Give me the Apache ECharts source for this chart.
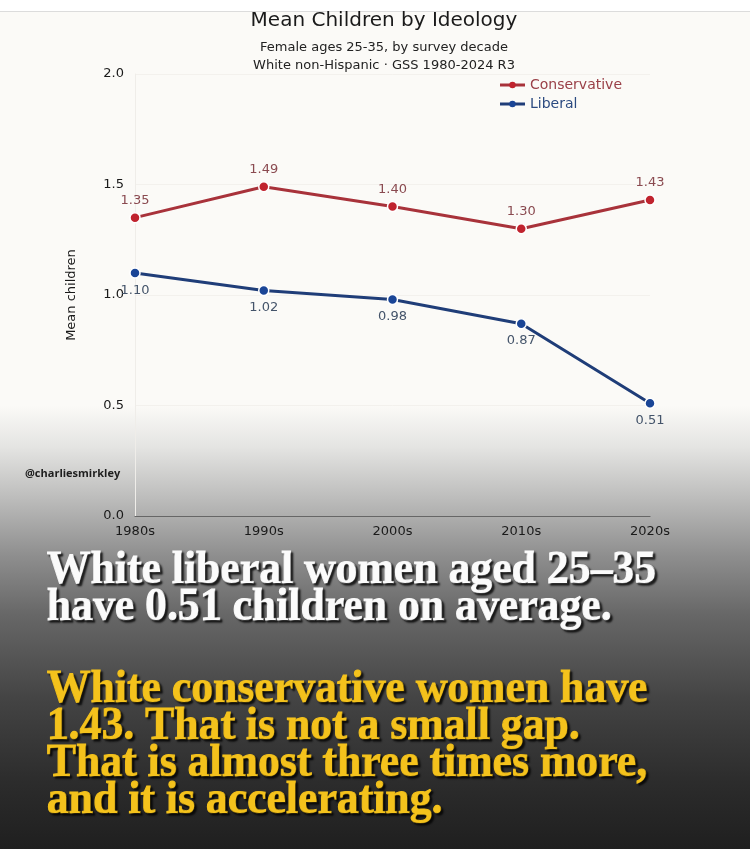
<!DOCTYPE html>
<html>
<head>
<meta charset="utf-8">
<script src="https://cdn.jsdelivr.net/npm/echarts@6/dist/echarts.min.js"></script>
<style>
  html, body { margin: 0; padding: 0; background: #ffffff; }
  #main-chart { width: 750px; height: 849px; }
</style>
</head>
<body>
<div id="main-chart"></div>
<script>
// values
const decades = ['1980s', '1990s', '2000s', '2010s', '2020s']
const conservative = [1.35, 1.49, 1.40, 1.30, 1.43]
const liberal = [1.10, 1.02, 0.98, 0.87, 0.51]
const yTicks = [0, 0.5, 1.0, 1.5, 2.0]

const headline = ['White liberal women aged 25\u201335', 'have 0.51 children on average.']
const followUp = [
  'White conservative women have',
  '1.43. That is not a small gap.',
  'That is almost three times more,',
  'and it is accelerating.'
]

const CHART_FONT = 'DejaVu Sans'
const CAPTION_FONT = "bold 46px 'Liberation Serif'"

const caption = (lines, top, fill) => lines.map((t, i) => ({
  type: 'text',
  x: 47,
  y: top + i * 37,
  scaleX: 0.95,
  z: 100,
  style: {
    text: t,
    font: CAPTION_FONT,
    fill: fill,
    stroke: fill,
    lineWidth: 1.2,
    textVerticalAlign: 'middle',
    textShadowColor: 'rgba(0,0,0,0.8)',
    textShadowOffsetX: 2,
    textShadowOffsetY: 2,
    textShadowBlur: 2
  }
}))

const chart = echarts.init(document.getElementById('main-chart'))
chart.setOption({
  backgroundColor: '#ffffff',
  animation: false,
  textStyle: { fontFamily: CHART_FONT },
  title: [
    {
      text: 'Mean Children by Ideology',
      left: 379, top: 6, textAlign: 'center',
      textStyle: { fontFamily: CHART_FONT, fontSize: 20, fontWeight: 'normal', color: '#1a1a1a' }
    },
    {
      text: 'Female ages 25-35, by survey decade\nWhite non-Hispanic \u00b7 GSS 1980-2024 R3',
      left: 379, top: 34, textAlign: 'center',
      textStyle: { fontFamily: CHART_FONT, fontSize: 13, lineHeight: 18, fontWeight: 'normal', color: '#222' }
    }
  ],
  legend: {
    right: 123, top: 73,
    orient: 'vertical',
    itemWidth: 25, itemHeight: 8, itemGap: 5,
    lineStyle: { width: 3 },
    itemStyle: { borderWidth: 0 },
    textStyle: { fontFamily: CHART_FONT, fontSize: 14, color: 'inherit' },
    data: [
      { name: 'Conservative', textStyle: { color: '#9a4048' } },
      { name: 'Liberal', textStyle: { color: '#2b4a80' } }
    ]
  },
  grid: { left: 135, right: 100, top: 74, bottom: 333 },
  xAxis: {
    type: 'category',
    data: decades,
    boundaryGap: false,
    axisLine: { lineStyle: { color: '#666', width: 1.2 } },
    axisTick: { show: false },
    axisLabel: { color: '#1a1a1a', fontSize: 13, margin: 9 },
    splitLine: { show: false }
  },
  yAxis: {
    type: 'value',
    min: 0, max: 2, interval: 0.5,
    name: 'Mean children',
    nameLocation: 'middle',
    nameGap: 57,
    nameTextStyle: { color: '#1a1a1a', fontSize: 13 },
    axisLine: { show: true, lineStyle: { color: '#efede9', width: 1 } },
    axisTick: { show: false },
    axisLabel: {
      color: '#1a1a1a', fontSize: 13, margin: 11,
      formatter: v => yTicks.includes(v) ? v.toFixed(1) : ''
    },
    splitLine: { lineStyle: { color: '#f3f1ed', width: 1 } }
  },
  graphic: [
    {
      type: 'rect', z: -10, silent: true,
      shape: { x: 0, y: 12, width: 750, height: 837 },
      style: {
        fill: new echarts.graphic.LinearGradient(0, 0, 0, 1, [
          { offset: 0, color: '#fbfaf7' },
          { offset: 0.47, color: '#fbfaf7' },
          { offset: 0.52, color: '#e4e4e2' },
          { offset: 0.58, color: '#bdbdbc' },
          { offset: 0.65, color: '#8e8e8e' },
          { offset: 0.72, color: '#676767' },
          { offset: 0.82, color: '#444444' },
          { offset: 0.92, color: '#2c2c2c' },
          { offset: 1, color: '#1f1f1f' }
        ])
      }
    },
    {
      type: 'rect', z: -9, silent: true,
      shape: { x: 0, y: 11, width: 750, height: 1 },
      style: { fill: '#dcdcdc' }
    },
    {
      type: 'text', x: 25, y: 474, z: 50,
      style: {
        text: '@charliesmirkley',
        font: "bold 11px 'Open Sans'",
        fill: '#1e1e1e',
        textVerticalAlign: 'middle'
      }
    },
    ...caption(headline, 571, '#fbfbfb'),
    ...caption(followUp, 690, '#f4c21c')
  ],
  series: [
    {
      name: 'Conservative',
      type: 'line',
      data: conservative,
      symbol: 'circle', symbolSize: 10,
      lineStyle: { color: '#a8323a', width: 3 },
      itemStyle: { color: '#c0232e', borderColor: '#ffffff', borderWidth: 1.5 },
      label: {
        show: true, position: 'top', distance: 5,
        color: '#8a4a50', fontSize: 13,
        formatter: p => p.value.toFixed(2)
      }
    },
    {
      name: 'Liberal',
      type: 'line',
      data: liberal,
      symbol: 'circle', symbolSize: 10,
      lineStyle: { color: '#1f3d78', width: 3 },
      itemStyle: { color: '#1a4596', borderColor: '#ffffff', borderWidth: 1.5 },
      label: {
        show: true, position: 'bottom', distance: 5,
        color: '#44546a', fontSize: 13,
        formatter: p => p.value.toFixed(2)
      }
    }
  ]
})
</script>
</body>
</html>
